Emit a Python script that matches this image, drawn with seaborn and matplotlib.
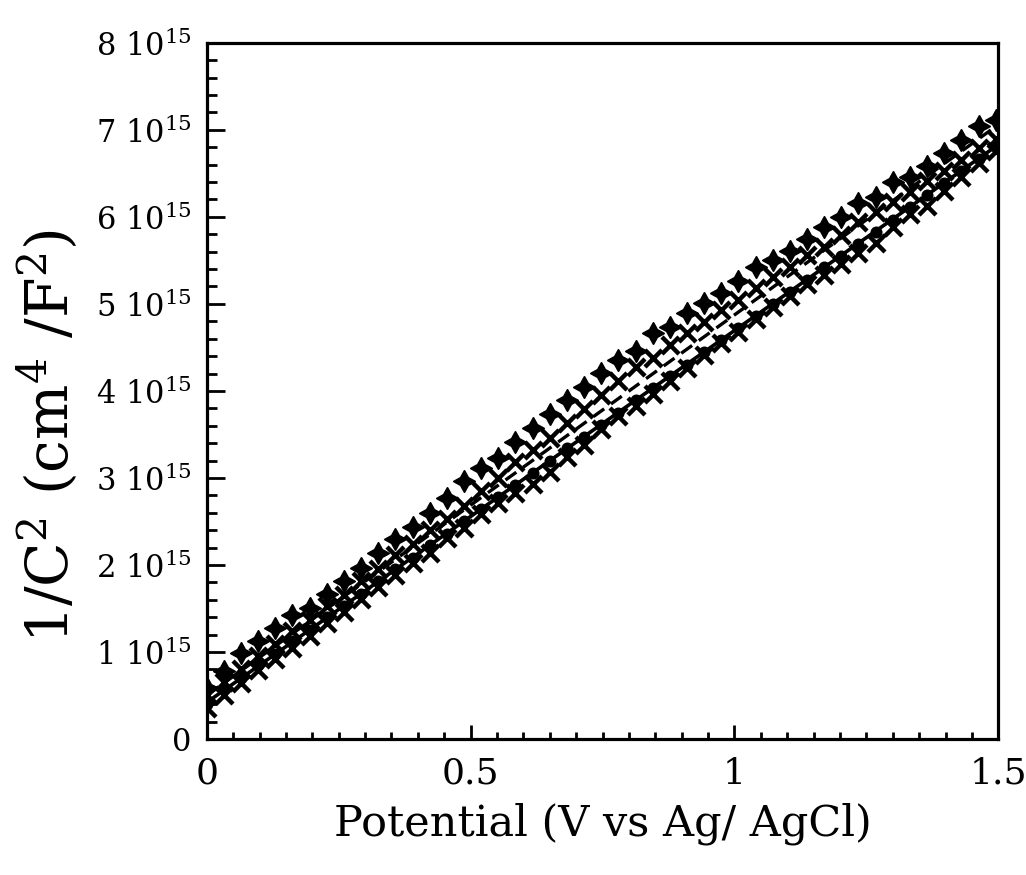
import matplotlib
matplotlib.use("Agg")
import matplotlib.pyplot as plt
from matplotlib.ticker import MultipleLocator, FixedLocator, FixedFormatter
import seaborn as sns
import numpy as np

# Potential sweep (V vs Ag/AgCl)
potential = [0.0000, 0.0325, 0.0650, 0.0975, 0.1300, 0.1625, 0.1950, 0.2275, 0.2600, 0.2925,
             0.3250, 0.3575, 0.3900, 0.4225, 0.4550, 0.4875, 0.5200, 0.5525, 0.5850, 0.6175,
             0.6500, 0.6825, 0.7150, 0.7475, 0.7800, 0.8125, 0.8450, 0.8775, 0.9100, 0.9425,
             0.9750, 1.0075, 1.0400, 1.0725, 1.1050, 1.1375, 1.1700, 1.2025, 1.2350, 1.2675,
             1.3000, 1.3325, 1.3650, 1.3975, 1.4300, 1.4625, 1.4950]

# 1/C^2 in units of 1e15 cm^4/F^2
plus_series = [0.58, 0.78, 0.99, 1.13, 1.27, 1.42, 1.51, 1.67, 1.82, 1.96,
               2.14, 2.30, 2.44, 2.60, 2.77, 2.97, 3.11, 3.23, 3.41, 3.57,
               3.74, 3.89, 4.05, 4.21, 4.35, 4.46, 4.66, 4.73, 4.89, 5.01,
               5.12, 5.26, 5.42, 5.50, 5.61, 5.75, 5.88, 6.00, 6.16, 6.23,
               6.40, 6.46, 6.59, 6.73, 6.88, 7.05, 7.11]

cross_upper = [0.50, 0.66, 0.80, 0.95, 1.09, 1.24, 1.37, 1.53, 1.66, 1.82,
               1.95, 2.11, 2.24, 2.40, 2.53, 2.68, 2.85, 3.00, 3.18, 3.32,
               3.46, 3.63, 3.79, 3.95, 4.11, 4.27, 4.38, 4.53, 4.66, 4.79,
               4.93, 5.05, 5.18, 5.31, 5.42, 5.56, 5.65, 5.79, 5.94, 6.06,
               6.17, 6.29, 6.41, 6.53, 6.65, 6.79, 6.90]

dot_series = [0.40, 0.57, 0.70, 0.85, 0.98, 1.12, 1.25, 1.40, 1.53, 1.67,
              1.81, 1.95, 2.08, 2.23, 2.36, 2.51, 2.64, 2.78, 2.92, 3.06,
              3.19, 3.34, 3.47, 3.61, 3.75, 3.89, 4.03, 4.17, 4.30, 4.45,
              4.58, 4.72, 4.86, 5.00, 5.14, 5.27, 5.42, 5.55, 5.69, 5.83,
              5.97, 6.11, 6.25, 6.39, 6.53, 6.66, 6.80]

cross_lower = [0.35, 0.50, 0.64, 0.79, 0.92, 1.05, 1.18, 1.33, 1.46, 1.61,
               1.75, 1.88, 2.02, 2.14, 2.31, 2.43, 2.58, 2.71, 2.83, 2.93,
               3.07, 3.24, 3.38, 3.56, 3.71, 3.83, 3.97, 4.11, 4.26, 4.41,
               4.55, 4.68, 4.83, 4.96, 5.09, 5.23, 5.33, 5.46, 5.59, 5.70,
               5.88, 6.03, 6.12, 6.30, 6.46, 6.62, 6.76]

# Linear Mott-Schottky fits (endpoints of each fitted line)
fit_potential = [0.0, 1.5]
fit_solid = [0.42, 6.83]
fit_dashed = [0.50, 7.06]

y_ticks = [0, 1, 2, 3, 4, 5, 6, 7, 8]
y_tick_labels = ["0"] + [f"{v} 10$^{{15}}$" for v in y_ticks[1:]]
x_ticks = [0, 0.5, 1, 1.5]
x_tick_labels = ["0", "0.5", "1", "1.5"]

scale = 1e15

sns.set_theme(style="ticks")
plt.rcParams["font.family"] = ["DejaVu Serif"]
plt.rcParams["mathtext.fontset"] = "dejavuserif"

fig = plt.figure(figsize=(10.26, 8.75), dpi=100)
ax = fig.add_axes([0.2015, 0.1555, 0.7715, 0.7955])

x = np.array(potential)
ink = "black"

sns.lineplot(x=fit_potential, y=np.array(fit_solid) * scale, ax=ax,
             color=ink, linewidth=2.6, zorder=3)
sns.lineplot(x=fit_potential, y=np.array(fit_dashed) * scale, ax=ax,
             color=ink, linewidth=2.4, linestyle=(0, (4, 2.5)), zorder=3)

sns.scatterplot(x=x, y=np.array(cross_lower) * scale, ax=ax, marker="x",
                s=150, color=ink, linewidth=3.2, zorder=4)
sns.scatterplot(x=x, y=np.array(dot_series) * scale, ax=ax, marker="o",
                s=75, color=ink, edgecolor=ink, linewidth=0, zorder=4)
sns.scatterplot(x=x, y=np.array(cross_upper) * scale, ax=ax, marker="x",
                s=150, color=ink, linewidth=3.2, zorder=4)
sns.scatterplot(x=x, y=np.array(plus_series) * scale, ax=ax, marker=(4, 1, 0),
                s=230, color=ink, edgecolor=ink, linewidth=1.4, zorder=5)

ax.set_xlim(0, 1.5)
ax.set_ylim(0, 8 * scale)

ax.xaxis.set_major_locator(FixedLocator(x_ticks))
ax.xaxis.set_major_formatter(FixedFormatter(x_tick_labels))
ax.xaxis.set_minor_locator(MultipleLocator(0.05))
ax.yaxis.set_major_locator(FixedLocator([v * scale for v in y_ticks]))
ax.yaxis.set_major_formatter(FixedFormatter(y_tick_labels))
ax.yaxis.set_minor_locator(MultipleLocator(0.2 * scale))

ax.tick_params(axis="both", which="both", direction="in", top=False, right=False,
               colors=ink, width=2.0)
ax.tick_params(axis="y", which="major", length=13, labelsize=22, pad=11)
ax.tick_params(axis="y", which="minor", length=7)
ax.tick_params(axis="x", which="major", length=10, labelsize=26, pad=13)
ax.tick_params(axis="x", which="minor", length=5)

for side in ["left", "right", "top", "bottom"]:
    ax.spines[side].set_visible(True)
    ax.spines[side].set_linewidth(2.3)
    ax.spines[side].set_color(ink)

ax.set_xlabel("Potential (V vs Ag/ AgCl)", fontsize=31, labelpad=8, color=ink)
ax.set_ylabel("1/C$^2$ (cm$^4$ /F$^2$)", fontsize=42, color=ink)
ax.yaxis.set_label_coords(-0.16, 0.435)
ax.grid(False)

fig.savefig("out.png", dpi=100, facecolor="white")
